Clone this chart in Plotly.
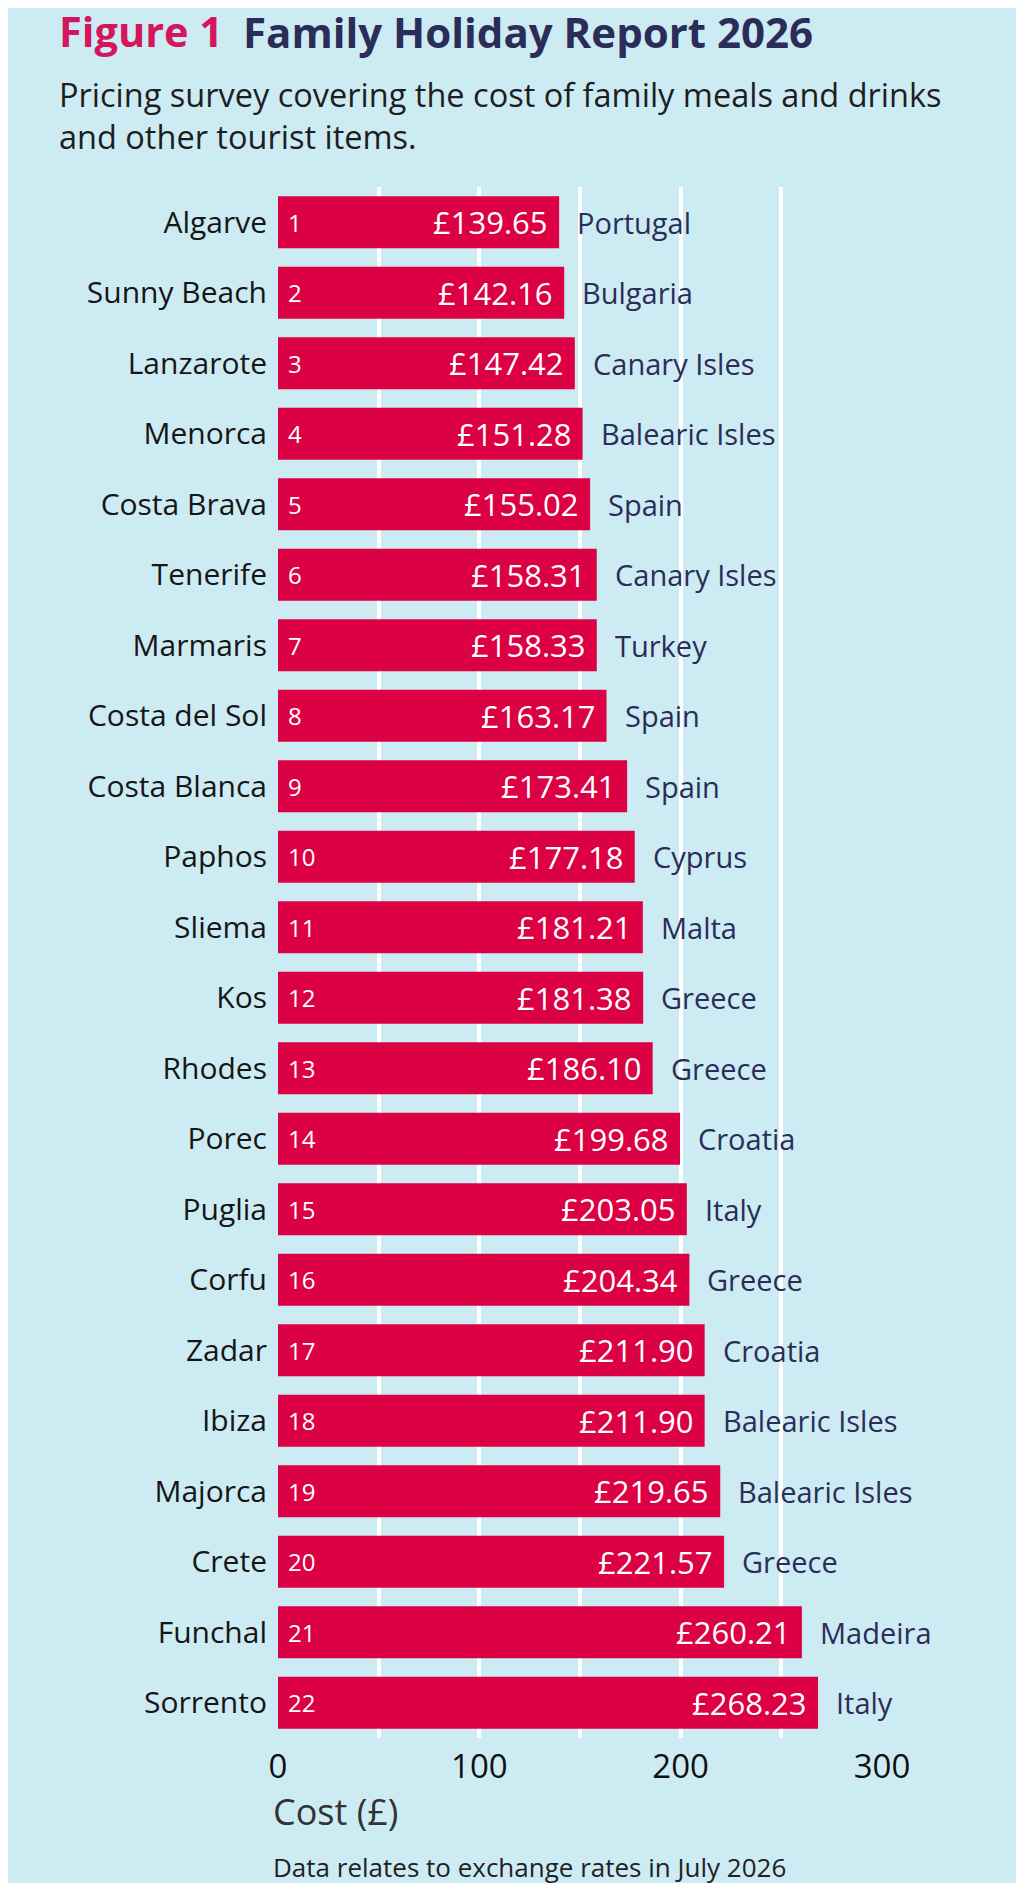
import plotly.graph_objects as go

# data
resorts = ["Algarve", "Sunny Beach", "Lanzarote", "Menorca", "Costa Brava", "Tenerife",
           "Marmaris", "Costa del Sol", "Costa Blanca", "Paphos", "Sliema", "Kos",
           "Rhodes", "Porec", "Puglia", "Corfu", "Zadar", "Ibiza", "Majorca", "Crete",
           "Funchal", "Sorrento"]
countries = ["Portugal", "Bulgaria", "Canary Isles", "Balearic Isles", "Spain", "Canary Isles",
             "Turkey", "Spain", "Spain", "Cyprus", "Malta", "Greece",
             "Greece", "Croatia", "Italy", "Greece", "Croatia", "Balearic Isles", "Balearic Isles", "Greece",
             "Madeira", "Italy"]
cost = [139.65, 142.16, 147.42, 151.28, 155.02, 158.31, 158.33, 163.17, 173.41, 177.18, 181.21,
        181.38, 186.10, 199.68, 203.05, 204.34, 211.90, 211.90, 219.65, 221.57, 260.21, 268.23]
ranks = list(range(1, len(resorts) + 1))
tick_vals = [0, 50, 100, 150, 200, 250, 300]
tick_text = ["0", "", "100", "", "200", "", "300"]

BG = "#cdebf3"
BAR = "#dc0044"
NAVY = "#2b2d58"
PINK = "#d4175c"
FONT = "Open Sans"

fig = go.Figure()
fig.add_trace(go.Bar(
    x=cost, y=resorts, orientation="h", width=0.74,
    marker=dict(color=BAR, line=dict(width=0)),
    hoverinfo="skip",
))

# labels inside / beside the bars
for r, name, c, ctry in zip(ranks, resorts, cost, countries):
    fig.add_annotation(x=0, y=name, text=str(r), showarrow=False, xanchor="left",
                       xshift=8, font=dict(family=FONT, size=24, color="white"))
    fig.add_annotation(x=c, y=name, text="£%.2f" % c, showarrow=False, xanchor="right",
                       xshift=-9, font=dict(family=FONT, size=31, color="white"))
    fig.add_annotation(x=c, y=name, text=ctry, showarrow=False, xanchor="left",
                       xshift=16, font=dict(family=FONT, size=29, color=NAVY))

# title (two parts), subtitle, axis caption, footnote
fig.add_annotation(xref="paper", yref="paper", x=-0.366, y=1.1005, xanchor="left", yanchor="middle",
                   showarrow=False, text="<b>Figure 1</b>",
                   font=dict(family=FONT, size=41.5, color=PINK))
fig.add_annotation(xref="paper", yref="paper", x=-0.062, y=1.1005, xanchor="left", yanchor="middle",
                   showarrow=False, text="<b>Family Holiday Report 2026</b>",
                   font=dict(family=FONT, size=42, color=NAVY))
fig.add_annotation(xref="paper", yref="paper", x=-0.366, y=1.0464, xanchor="left", yanchor="middle",
                   align="left", showarrow=False,
                   text="Pricing survey covering the cost of family meals and drinks<br>and other tourist items.",
                   font=dict(family=FONT, size=32.5, color="#1e1e1e"))
fig.add_annotation(xref="paper", yref="paper", x=-0.012, y=-0.0477, xanchor="left", yanchor="middle",
                   showarrow=False, text="Cost (£)",
                   font=dict(family=FONT, size=36, color="#333333"))
fig.add_annotation(xref="paper", yref="paper", x=-0.012, y=-0.0832, xanchor="left", yanchor="middle",
                   showarrow=False, text="Data relates to exchange rates in July 2026",
                   font=dict(family=FONT, size=26, color="#222222"))

fig.update_layout(
    width=1024, height=1883,
    margin=dict(l=270, r=150, t=179, b=153),
    paper_bgcolor=BG, plot_bgcolor=BG,
    showlegend=False,
    xaxis=dict(
        range=[0, 300], tickvals=tick_vals, ticktext=tick_text,
        showgrid=True, gridcolor="white", gridwidth=4, zeroline=False,
        showline=False, ticks="", ticklabelstandoff=6,
        tickfont=dict(family=FONT, size=33, color="#111111"),
    ),
    yaxis=dict(
        autorange="reversed", showgrid=False, zeroline=False, showline=False,
        ticks="", ticklabelstandoff=10,
        tickfont=dict(family=FONT, size=30, color="#161616"),
    ),
)

fig.write_html("out.html")
